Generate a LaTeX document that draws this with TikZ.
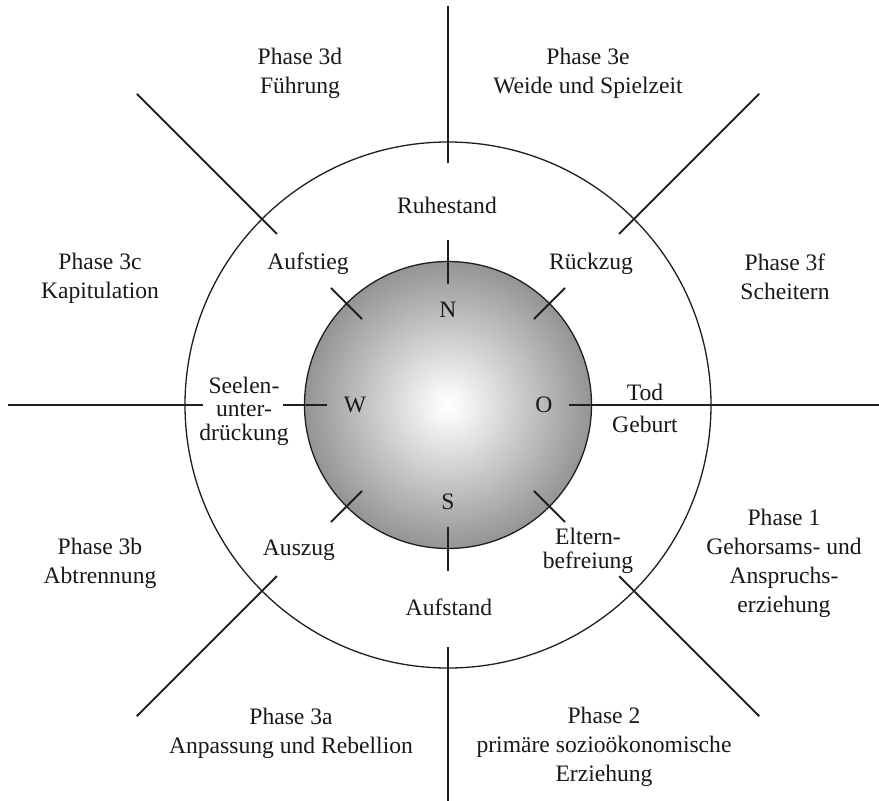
\documentclass[tikz,border=0pt]{standalone}
\usepackage{fontspec}
\setmainfont{Liberation Serif}
\usetikzlibrary{calc}
\pgfdeclareradialshading{sphereshade}{\pgfpoint{0bp}{0bp}}{color(0bp)=(white); color(3bp)=(white!96!black); color(25bp)=(black!42); color(50bp)=(black!66)}
\begin{document}
\begin{tikzpicture}[x=1pt,y=-1pt,
  lbl/.style={font=\fontsize{23.6}{29}\selectfont, align=center, text=black!90, inner sep=0pt},
  tight/.style={font=\fontsize{23.6}{23.5}\selectfont},
  spoke/.style={line width=1.8pt, draw=black!88},
  ring/.style={line width=1.3pt, draw=black!88}]
\useasboundingbox (0,0) rectangle (879,801);
\fill[white] (0,0) rectangle (879,801);
\coordinate (c) at (448,405);
\node[circle, ring, minimum size=526pt, inner sep=0pt] (outer) at (c) {};
\node[circle, ring, shading=sphereshade, minimum size=287pt, inner sep=0pt] (inner) at (c) {};
% long spokes
\foreach \a in {45,135,225,315}
  \draw[spoke] ($(c)+(\a:242pt)$) coordinate (s\a) -- ($(c)+(\a:440pt)$) coordinate (e\a);
\draw[spoke] ($(c)+(90:242pt)$) coordinate (s90) -- ($(c)+(90:399pt)$) coordinate (e90);
\draw[spoke] ($(c)+(270:242pt)$) coordinate (s270) -- ($(c)+(270:399pt)$) coordinate (e270);
\draw[spoke] ($(c)+(180:245pt)$) coordinate (s180) -- ($(c)+(180:440pt)$) coordinate (e180);
\draw[spoke] ($(c)+(0:121pt)$) coordinate (s0) -- ($(c)+(0:431pt)$) coordinate (e0);
% ticks on the sphere
\foreach \a in {45,90,135,180,225,270,315}
  \draw[spoke] ($(c)+(\a:121.5pt)$) coordinate (ta\a) -- ($(c)+(\a:165.5pt)$) coordinate (tb\a);
% compass letters
\node[lbl] (N) at (448,310) {N};
\node[lbl] (S) at (448,502) {S};
\node[lbl] (W) at (355,405) {W};
\node[lbl] (O) at (544,405) {O};
% ring labels
\node[lbl] (ruhe) at (447,205) {Ruhestand};
\node[lbl] (aufstand) at (449,607) {Aufstand};
\node[lbl] (aufstieg) at (308,264) {Aufstieg};
\node[lbl] (rueckzug) at (591,264) {Rückzug};
\node[lbl] (auszug) at (299,550) {Auszug};
\node[lbl, tight] (eltern) at (588,551) {Eltern-\\befreiung};
\node[lbl, tight] (seelen) at (244,411) {Seelen-\\unter-\\drückung};
\node[lbl] (tod) at (645,392) {Tod};
\node[lbl] (geburt) at (645,424) {Geburt};
% phase labels
\node[lbl] (p3d) at (300,73) {Phase 3d\\Führung};
\node[lbl] (p3e) at (588,73) {Phase 3e\\Weide und Spielzeit};
\node[lbl] (p3c) at (100,278) {Phase 3c\\Kapitulation};
\node[lbl] (p3f) at (785,277) {Phase 3f\\Scheitern};
\node[lbl] (p3b) at (100,563) {Phase 3b\\Abtrennung};
\node[lbl] (p1) at (784,563) {Phase 1\\Gehorsams- und\\Anspruchs-\\erziehung};
\node[lbl] (p3a) at (291,733) {Phase 3a\\Anpassung und Rebellion};
\node[lbl] (p2) at (604,747) {Phase 2\\primäre sozioökonomische\\Erziehung};
\end{tikzpicture}
\end{document}
